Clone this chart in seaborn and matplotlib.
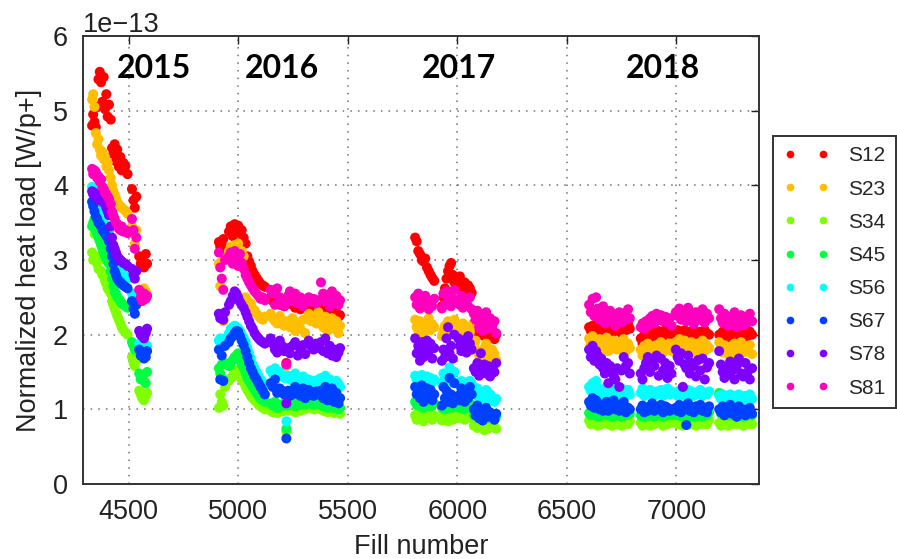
import numpy as np
import pandas as pd
import matplotlib
matplotlib.use("Agg")
import matplotlib.pyplot as plt
from matplotlib.lines import Line2D
import seaborn as sns

# Fill numbers (one entry per fill), grouped by run year
fill_number = (
    [4333, 4338, 4344, 4350, 4356, 4362, 4368, 4374, 4380, 4386, 4392, 4398, 4404, 4410, 4418, 4424, 4430, 4436,
     4442, 4448, 4455, 4462, 4468, 4476, 4485, 4495, 4515, 4522, 4528, 4535, 4548, 4555, 4562, 4570, 4578, 4584]
    + [4912, 4918, 4925, 4932, 4940, 4958, 4966, 4975, 4984, 4992, 5000, 5008, 5016, 5025, 5034, 5042, 5050, 5058,
       5066, 5075, 5084, 5093, 5102, 5112, 5122, 5148, 5158, 5168, 5178, 5190, 5200, 5210, 5220, 5228, 5236, 5248,
       5260, 5272, 5284, 5296, 5306, 5322, 5332, 5344, 5356, 5366, 5378, 5388, 5398, 5408, 5418, 5428, 5438, 5448,
       5458, 5465]
    + [5808, 5815, 5822, 5830, 5838, 5846, 5854, 5862, 5870, 5878, 5886, 5895, 5930, 5937, 5944, 5951, 5958, 5965,
       5972, 5980, 5987, 6005, 6012, 6019, 6026, 6034, 6042, 6050, 6058, 6066, 6076, 6084, 6092, 6100, 6108, 6116,
       6124, 6132, 6140, 6150, 6160, 6170, 6178]
    + [6602, 6610, 6618, 6626, 6634, 6642, 6650, 6658, 6666, 6674, 6682, 6690, 6698, 6706, 6714, 6722, 6730, 6740,
       6750, 6760, 6770, 6780, 6788, 6838, 6846, 6854, 6862, 6870, 6880, 6890, 6900, 6910, 6920, 6930, 6940, 6950,
       6960, 6970, 6978, 6998, 7006, 7014, 7022, 7030, 7038, 7046, 7054, 7062, 7070, 7080, 7090, 7100, 7110, 7120,
       7130, 7140, 7150, 7196, 7204, 7212, 7220, 7228, 7236, 7246, 7256, 7266, 7276, 7286, 7296, 7306, 7316, 7326,
       7336, 7346]
)

# Normalized heat load per sector, in units of 1e-13 W/p+
s12 = (
    [4.80, 4.95, 4.85, 4.78, 5.05, 5.42, 5.52, 5.38, 5.12, 5.45, 5.02, 5.22, 4.92, 5.08, 4.88, 4.50, 4.42, 4.55,
     4.32, 4.48, 4.25, 4.38, 4.20, 4.30, 4.26, 4.15, 3.95, 3.80, 3.70, 3.85, 3.05, 2.95, 3.00, 2.90, 3.08, 2.95]
    + [3.24, 3.18, 3.20, 3.28, 3.15, 3.38, 3.45, 3.32, 3.48, 3.42, 3.46, 3.36, 3.40, 3.30, 3.22, 3.05, 2.98, 2.92,
       2.85, 2.80, 2.76, 2.72, 2.68, 2.66, 2.64, 2.50, 2.45, 2.48, 2.42, 2.40, 2.44, 2.38, 1.62, 2.42, 2.46, 2.40,
       2.36, 2.44, 2.34, 2.40, 2.38, 2.42, 2.36, 2.40, 2.35, 2.38, 2.30, 2.25, 2.32, 2.22, 2.28, 2.35, 2.20, 2.30,
       2.24, 2.26]
    + [3.30, 3.25, 3.12, 3.08, 3.00, 2.98, 3.02, 2.90, 2.85, 2.80, 2.76, 2.72, 2.38, 2.50, 2.62, 2.75, 2.85, 2.92,
       2.96, 2.80, 2.70, 2.72, 2.78, 2.65, 2.60, 2.70, 2.58, 2.66, 2.62, 2.56, 2.15, 2.08, 2.12, 2.00, 2.18, 2.05,
       1.98, 2.10, 1.95, 2.02, 2.06, 1.94, 2.00]
    + [2.10, 2.05, 2.12, 2.08, 2.14, 2.06, 2.10, 2.04, 2.12, 2.08, 2.02, 2.10, 2.06, 2.12, 2.04, 2.14, 2.08, 2.10,
       2.02, 2.12, 2.06, 2.14, 2.08, 1.95, 1.88, 2.00, 1.90, 2.02, 1.96, 2.04, 1.98, 2.06, 2.00, 2.04, 1.98, 2.06,
       2.02, 2.04, 2.00, 2.02, 2.06, 2.00, 2.04, 1.98, 2.06, 2.02, 2.00, 2.04, 1.98, 2.06, 2.02, 2.00, 2.04, 1.98,
       2.06, 2.02, 2.00, 2.00, 1.96, 2.04, 1.98, 2.02, 1.94, 2.04, 2.00, 1.96, 2.02, 1.98, 2.04, 1.96, 2.02, 1.98,
       2.04, 2.00]
)
s23 = (
    [5.15, 5.22, 5.05, 4.70, 4.55, 4.62, 4.48, 4.40, 4.45, 4.35, 4.38, 4.25, 4.30, 4.20, 4.10, 4.00, 3.92, 3.88,
     3.82, 3.78, 3.74, 3.72, 3.70, 3.68, 3.66, 3.62, 3.45, 3.35, 3.22, 3.40, 2.60, 2.55, 2.50, 2.62, 2.58, 2.52]
    + [2.95, 2.65, 2.98, 2.18, 3.02, 3.12, 3.18, 3.10, 3.20, 3.15, 3.22, 3.08, 3.12, 3.05, 2.50, 2.45, 2.40, 2.42,
       2.35, 2.32, 2.28, 2.25, 2.22, 2.20, 2.24, 2.28, 2.22, 2.18, 2.15, 2.25, 2.20, 2.12, 1.58, 2.18, 2.10, 2.22,
       2.05, 2.15, 2.08, 2.20, 2.02, 2.28, 2.18, 2.22, 2.15, 2.30, 2.20, 2.10, 2.24, 2.05, 2.15, 2.22, 2.08, 2.18,
       2.02, 2.12]
    + [2.20, 2.10, 2.05, 2.18, 2.12, 2.02, 2.15, 2.08, 2.22, 2.06, 2.14, 2.10, 1.98, 2.05, 2.12, 2.00, 2.18, 2.08,
       2.15, 2.02, 2.20, 2.05, 2.12, 2.00, 2.15, 2.08, 1.98, 2.10, 2.04, 2.12, 1.85, 1.92, 1.78, 1.72, 2.08, 1.70,
       1.82, 1.88, 1.68, 1.76, 1.80, 1.74, 1.66]
    + [1.95, 1.88, 1.98, 1.82, 1.92, 1.86, 1.94, 1.80, 1.90, 1.84, 1.96, 1.78, 1.88, 1.82, 1.92, 1.86, 1.80, 1.90,
       1.84, 1.94, 1.78, 1.88, 1.82, 1.80, 1.72, 1.85, 1.76, 1.88, 1.74, 1.82, 1.78, 1.86, 1.80, 1.90, 1.76, 1.84,
       1.80, 1.88, 1.78, 1.90, 1.84, 1.94, 1.80, 1.88, 1.92, 1.78, 1.86, 1.82, 1.90, 1.84, 1.76, 1.88, 1.80, 1.92,
       1.78, 1.86, 1.82, 1.90, 1.82, 1.76, 1.86, 1.80, 1.74, 1.84, 1.78, 1.88, 1.72, 1.82, 1.90, 1.76, 1.84, 1.78,
       1.86, 1.74]
)
s34 = (
    [3.10, 3.00, 3.35, 3.05, 2.95, 2.88, 3.00, 2.85, 2.80, 2.78, 2.72, 2.68, 2.62, 2.60, 2.55, 2.45, 2.40, 2.35,
     2.30, 2.25, 2.20, 2.15, 2.10, 2.06, 2.03, 2.00, 1.70, 1.62, 1.58, 1.65, 1.25, 1.20, 1.15, 1.12, 1.18, 1.22]
    + [1.02, 1.20, 1.10, 1.05, 1.30, 1.38, 1.42, 1.45, 1.48, 1.52, 1.50, 1.44, 1.40, 1.36, 1.30, 1.26, 1.22, 1.18,
       1.15, 1.12, 1.10, 1.06, 1.04, 1.02, 1.00, 0.98, 0.96, 1.02, 0.95, 1.00, 0.97, 0.99, 0.70, 0.98, 1.02, 1.00,
       0.96, 1.04, 0.98, 1.02, 1.00, 1.04, 1.02, 1.00, 1.04, 1.02, 1.00, 0.98, 1.02, 0.96, 1.00, 0.98, 0.95, 1.00,
       0.96, 0.94]
    + [0.92, 0.86, 0.98, 0.90, 0.95, 0.84, 0.93, 0.88, 0.96, 0.90, 0.86, 0.92, 0.85, 0.95, 0.88, 0.92, 0.84, 0.96,
       0.90, 0.86, 0.94, 0.94, 0.88, 0.98, 0.90, 0.86, 0.95, 0.92, 0.88, 0.96, 0.78, 0.82, 0.75, 0.80, 0.85, 0.76,
       0.72, 0.80, 0.74, 0.78, 0.82, 0.76, 0.74]
    + [0.85, 0.80, 0.88, 0.82, 0.86, 0.78, 0.84, 0.80, 0.88, 0.82, 0.86, 0.80, 0.84, 0.78, 0.86, 0.82, 0.80, 0.84,
       0.78, 0.86, 0.82, 0.80, 0.84, 0.82, 0.78, 0.85, 0.80, 0.84, 0.78, 0.86, 0.80, 0.84, 0.82, 0.86, 0.78, 0.84,
       0.80, 0.84, 0.82, 0.84, 0.80, 0.86, 0.82, 0.78, 0.84, 0.80, 0.86, 0.82, 0.80, 0.84, 0.78, 0.86, 0.82, 0.80,
       0.84, 0.80, 0.86, 0.82, 0.78, 0.84, 0.80, 0.86, 0.78, 0.82, 0.80, 0.84, 0.80, 0.82, 0.86, 0.78, 0.84, 0.80,
       0.82, 0.80]
)
s45 = (
    [3.45, 3.50, 3.55, 3.40, 3.35, 3.30, 3.25, 3.20, 3.15, 3.10, 3.05, 3.02, 2.98, 2.95, 2.85, 2.75, 2.65, 2.58,
     2.55, 2.50, 2.48, 2.45, 2.42, 2.40, 2.38, 2.36, 1.90, 1.85, 1.80, 1.82, 1.48, 1.40, 1.45, 1.38, 1.35, 1.50]
    + [1.55, 1.48, 1.60, 1.40, 1.62, 1.58, 1.62, 1.66, 1.70, 1.72, 1.75, 1.66, 1.60, 1.55, 1.48, 1.42, 1.38, 1.34,
       1.30, 1.26, 1.22, 1.18, 1.14, 1.12, 1.10, 1.08, 1.05, 1.10, 1.02, 1.06, 1.04, 1.08, 0.74, 1.05, 1.08, 1.10,
       1.04, 1.10, 1.06, 1.12, 1.06, 1.10, 1.08, 1.06, 1.10, 1.08, 1.06, 1.04, 1.10, 1.02, 1.06, 1.04, 1.02, 1.06,
       1.00, 1.02]
    + [1.10, 1.06, 1.08, 1.04, 1.08, 1.02, 1.06, 1.05, 1.10, 1.04, 1.06, 1.08, 1.02, 1.06, 1.00, 1.04, 1.02, 1.08,
       1.04, 1.02, 1.06, 1.06, 1.02, 1.08, 1.04, 1.00, 1.06, 1.04, 1.02, 1.06, 0.92, 0.94, 0.90, 0.92, 0.96, 0.90,
       0.88, 0.92, 0.88, 0.90, 0.94, 0.88, 0.90]
    + [0.95, 0.92, 0.98, 0.94, 0.96, 0.90, 0.94, 0.92, 0.98, 0.94, 0.96, 0.92, 0.94, 0.90, 0.96, 0.94, 0.92, 0.96,
       0.90, 0.96, 0.92, 0.94, 0.94, 0.92, 0.90, 0.94, 0.90, 0.94, 0.92, 0.94, 0.90, 0.94, 0.92, 0.96, 0.90, 0.94,
       0.92, 0.94, 0.92, 0.94, 0.92, 0.96, 0.92, 0.90, 0.94, 0.92, 0.96, 0.92, 0.90, 0.94, 0.90, 0.96, 0.92, 0.90,
       0.94, 0.92, 0.96, 1.22, 0.94, 0.96, 0.92, 0.96, 0.92, 0.94, 0.92, 0.96, 0.92, 0.94, 0.96, 0.90, 0.94, 0.92,
       0.94, 0.92]
)
s56 = (
    [3.98, 3.95, 3.92, 3.85, 3.80, 3.75, 3.70, 3.62, 3.55, 3.50, 3.48, 3.45, 3.40, 3.38, 3.30, 3.20, 3.10, 3.00,
     2.95, 2.90, 2.88, 2.85, 2.82, 2.80, 2.78, 2.75, 2.55, 2.45, 2.40, 2.50, 1.88, 1.82, 1.85, 1.78, 1.80, 1.85]
    + [1.92, 1.95, 1.88, 1.85, 1.95, 2.02, 2.08, 2.10, 2.12, 2.10, 2.08, 2.05, 2.00, 1.96, 1.90, 1.82, 1.75, 1.68,
       1.60, 1.55, 1.50, 1.45, 1.40, 1.36, 1.32, 1.52, 1.48, 1.55, 1.45, 1.50, 1.46, 1.42, 0.84, 1.45, 1.40, 1.38,
       1.48, 1.40, 1.35, 1.44, 1.32, 1.40, 1.36, 1.38, 1.34, 1.40, 1.42, 1.38, 1.45, 1.35, 1.40, 1.36, 1.32, 1.38,
       1.34, 1.30]
    + [1.45, 1.40, 1.42, 1.38, 1.46, 1.35, 1.40, 1.44, 1.38, 1.42, 1.36, 1.40, 1.35, 1.48, 1.40, 1.42, 1.38, 1.56,
       1.45, 1.36, 1.50, 1.36, 1.32, 1.38, 1.34, 1.30, 1.36, 1.32, 1.38, 1.35, 1.25, 1.20, 1.28, 1.15, 1.22, 1.10,
       1.18, 1.26, 1.12, 1.20, 1.16, 1.10, 1.14]
    + [1.30, 1.25, 1.35, 1.22, 1.38, 1.28, 1.20, 1.26, 1.18, 1.24, 1.30, 1.20, 1.26, 1.22, 1.30, 1.18, 1.24, 1.20,
       1.28, 1.22, 1.18, 1.26, 1.20, 1.22, 1.28, 1.18, 1.24, 1.20, 1.26, 1.22, 1.18, 1.24, 1.20, 1.26, 1.18, 1.22,
       1.28, 1.20, 1.24, 1.22, 1.18, 1.25, 1.20, 1.24, 1.18, 1.22, 1.26, 1.20, 1.24, 1.18, 1.22, 1.20, 1.26, 1.18,
       1.22, 1.20, 1.24, 1.18, 1.14, 1.20, 1.12, 1.18, 1.16, 1.20, 1.14, 1.18, 1.12, 1.20, 1.16, 1.14, 1.18, 1.12,
       1.20, 1.14]
)
s67 = (
    [3.78, 3.72, 3.65, 3.58, 3.55, 3.50, 3.48, 3.45, 3.40, 3.38, 3.35, 3.32, 3.30, 3.25, 3.15, 3.05, 2.95, 2.85,
     2.80, 2.75, 2.72, 2.70, 2.68, 2.66, 2.64, 2.62, 2.45, 2.35, 2.28, 2.40, 1.80, 1.72, 1.75, 1.68, 1.70, 1.78]
    + [1.80, 1.40, 1.72, 1.38, 1.85, 1.90, 1.95, 1.98, 2.02, 2.05, 2.04, 1.98, 1.92, 1.86, 1.78, 1.70, 1.62, 1.55,
       1.50, 1.44, 1.40, 1.35, 1.30, 1.25, 1.20, 1.35, 1.30, 1.40, 1.22, 1.28, 1.25, 1.20, 0.61, 1.25, 1.18, 1.20,
       1.30, 1.22, 1.18, 1.28, 1.15, 1.26, 1.22, 1.18, 1.24, 1.20, 1.25, 1.15, 1.30, 1.12, 1.20, 1.28, 1.10, 1.22,
       1.08, 1.15]
    + [1.30, 1.20, 1.25, 1.15, 1.32, 1.10, 1.22, 1.28, 1.18, 1.26, 1.12, 1.20, 1.05, 1.30, 1.15, 1.25, 1.10, 1.42,
       1.20, 1.08, 1.35, 1.18, 1.12, 1.28, 1.22, 1.10, 1.25, 1.15, 1.30, 1.20, 1.00, 0.92, 1.05, 0.88, 0.98, 0.85,
       0.95, 1.02, 0.90, 0.96, 0.92, 0.86, 0.94]
    + [1.10, 1.05, 1.15, 1.02, 1.12, 1.08, 1.00, 1.06, 0.98, 1.04, 1.10, 0.98, 1.08, 1.02, 1.12, 1.00, 1.06, 0.98,
       1.04, 1.10, 0.96, 1.02, 1.00, 1.00, 1.05, 0.96, 1.02, 0.98, 1.04, 1.08, 0.98, 1.02, 1.00, 1.06, 0.96, 1.04,
       1.02, 0.98, 1.00, 1.02, 0.98, 1.06, 0.96, 1.04, 1.00, 0.79, 1.08, 0.98, 1.02, 0.96, 1.04, 1.00, 1.06, 0.98,
       1.02, 0.96, 1.04, 1.00, 0.96, 1.04, 0.92, 1.02, 0.98, 1.06, 0.94, 1.00, 0.90, 1.04, 0.96, 1.00, 0.92, 0.98,
       1.02, 0.94]
)
s78 = (
    [3.92, 3.88, 3.90, 3.85, 3.82, 3.86, 3.80, 3.84, 3.78, 3.82, 3.75, 3.70, 3.65, 3.60, 3.45, 3.30, 3.20, 3.15,
     3.10, 3.05, 3.02, 3.00, 2.98, 2.96, 2.95, 2.92, 2.88, 2.80, 2.75, 2.85, 2.05, 2.00, 1.98, 1.95, 2.02, 2.08]
    + [2.28, 2.22, 2.25, 2.20, 2.30, 2.40, 2.45, 2.52, 2.58, 2.55, 2.50, 2.44, 2.40, 2.36, 2.30, 2.24, 2.18, 2.12,
       2.08, 2.02, 1.98, 1.95, 1.92, 1.90, 1.88, 1.95, 1.88, 1.80, 1.76, 1.92, 1.85, 1.78, 1.08, 1.82, 1.75, 1.85,
       1.90, 1.72, 1.80, 1.86, 1.74, 1.92, 1.85, 1.80, 1.88, 1.82, 1.90, 1.78, 1.95, 1.75, 1.85, 1.72, 1.80, 1.70,
       1.76, 1.82]
    + [1.95, 1.75, 1.85, 1.65, 1.90, 1.70, 1.80, 1.92, 1.78, 1.88, 1.68, 1.82, 1.65, 1.80, 1.70, 1.95, 2.10, 1.75,
       1.85, 1.68, 2.00, 1.95, 1.85, 1.78, 1.92, 1.82, 1.76, 1.98, 1.88, 1.80, 1.55, 1.50, 1.62, 1.45, 1.75, 1.52,
       1.60, 1.48, 1.58, 1.44, 1.55, 1.50, 1.62]
    + [1.80, 1.70, 1.85, 1.65, 1.78, 1.72, 1.60, 1.68, 1.55, 1.48, 1.62, 1.35, 1.58, 1.50, 1.45, 1.40, 1.55, 1.30,
       1.52, 1.70, 1.58, 1.62, 1.48, 1.48, 1.40, 1.55, 1.62, 1.70, 1.50, 1.65, 1.58, 1.72, 1.45, 1.68, 1.52, 1.62,
       1.42, 1.58, 1.48, 1.80, 1.70, 1.65, 1.75, 1.30, 1.60, 1.55, 1.72, 1.48, 1.62, 1.58, 1.44, 1.66, 1.52, 1.68,
       1.40, 1.56, 1.62, 1.78, 1.60, 1.50, 1.42, 1.56, 1.46, 1.64, 1.52, 1.40, 1.58, 1.68, 1.48, 1.44, 1.62, 1.50,
       1.40, 1.55]
)
s81 = (
    [4.22, 4.15, 4.20, 4.18, 4.10, 4.12, 4.05, 4.08, 3.98, 3.95, 3.90, 3.88, 3.85, 3.82, 3.75, 3.65, 3.60, 3.55,
     3.50, 3.48, 3.42, 3.40, 3.45, 3.38, 3.40, 3.36, 3.55, 3.40, 3.15, 3.30, 2.60, 2.50, 2.45, 2.55, 2.48, 2.52]
    + [3.10, 2.90, 2.75, 2.60, 3.00, 3.05, 3.10, 2.95, 3.12, 3.00, 2.92, 3.08, 2.96, 2.88, 2.80, 2.75, 2.70, 2.66,
       2.62, 2.58, 2.55, 2.52, 2.48, 2.50, 2.46, 2.60, 2.55, 2.40, 2.62, 2.50, 2.45, 2.38, 1.60, 2.52, 2.58, 2.45,
       2.55, 2.42, 2.50, 2.38, 2.46, 2.50, 2.44, 2.48, 2.42, 2.46, 2.70, 2.55, 2.45, 2.50, 2.38, 2.58, 2.42, 2.52,
       2.40, 2.46]
    + [2.50, 2.40, 2.55, 2.35, 2.48, 2.38, 2.52, 2.42, 2.34, 2.45, 2.38, 2.48, 2.35, 2.55, 2.40, 2.58, 2.45, 2.52,
       2.38, 2.48, 2.60, 2.45, 2.40, 2.52, 2.36, 2.48, 2.42, 2.38, 2.50, 2.34, 2.28, 2.20, 2.32, 2.10, 2.25, 2.05,
       2.15, 2.30, 2.08, 2.22, 2.12, 2.18, 2.02]
    + [2.40, 2.30, 2.48, 2.25, 2.50, 2.35, 2.20, 2.30, 2.38, 2.15, 2.28, 2.22, 2.32, 2.18, 2.26, 2.12, 2.24, 2.30,
       2.16, 2.28, 2.20, 2.34, 2.22, 2.10, 2.15, 2.08, 2.18, 2.12, 2.22, 2.25, 2.15, 2.28, 2.20, 2.26, 2.18, 2.24,
       2.16, 2.22, 2.12, 2.30, 2.25, 2.35, 2.20, 2.28, 2.32, 2.18, 2.36, 2.22, 2.26, 2.14, 2.30, 2.24, 2.20, 2.34,
       2.16, 2.28, 2.22, 2.34, 2.22, 2.16, 2.28, 2.18, 2.12, 2.24, 2.14, 2.30, 2.10, 2.20, 2.26, 2.12, 2.22, 2.16,
       2.28, 2.18]
)

sectors = ["S12", "S23", "S34", "S45", "S56", "S67", "S78", "S81"]
sector_colors = ["#ff0000", "#ffbf00", "#80ff00", "#00ff40",
                 "#00ffff", "#0040ff", "#8000ff", "#ff00bf"]
years = ["2015", "2016", "2017", "2018"]
year_label_x = [4616, 5199, 6006, 6940]
x_ticks = [4500, 5000, 5500, 6000, 6500, 7000]

sns.set_style("white")
plt.rcParams["font.family"] = ["Liberation Sans", "DejaVu Sans"]

# Long-form table: one row per fill and sector
series = [s12, s23, s34, s45, s56, s67, s78, s81]
frames = [pd.DataFrame({"fill": fill_number,
                        "sector": name,
                        "load": np.asarray(vals) * 1e-13})
          for name, vals in zip(sectors, series)]
df = pd.concat(frames, ignore_index=True)

fig = plt.figure(figsize=(8.97, 5.59), dpi=100)
ax = fig.add_axes([0.0929, 0.1342, 0.7538, 0.8014])

sns.scatterplot(data=df, x="fill", y="load", hue="sector", hue_order=sectors,
                palette=sector_colors, s=52, linewidth=0, edgecolor="none",
                legend=False, ax=ax, zorder=3)

ax.set_xlim(4293, 7380)
ax.set_ylim(0, 6e-13)
ax.set_xticks(x_ticks)
ax.set_yticks(np.arange(0, 7) * 1e-13)

ax.grid(True, color="#707070", linewidth=1.1, linestyle=(0, (1, 4)), zorder=0)
ax.set_axisbelow(True)
ax.tick_params(direction="in", length=6, width=1.0, top=True, right=True,
               labelsize=19.5, pad=11, colors="#222222")
for sp in ax.spines.values():
    sp.set_color("#333333")
    sp.set_linewidth(1.4)

ax.set_xlabel("Fill number", fontsize=19.5, labelpad=6, color="#222222")
ax.set_ylabel("Normalized heat load [W/p+]", fontsize=19.5, labelpad=8, color="#222222")
ax.yaxis.get_offset_text().set_fontsize(19.5)
ax.yaxis.get_offset_text().set_color("#222222")

# Run-year annotations
for yx, label in zip(year_label_x, years):
    ax.text(yx, 5.56e-13, label, ha="center", va="center", fontsize=23,
            fontweight="bold", family=["Lato", "DejaVu Sans"], color="black")

# Legend with two dots per entry
handles = [Line2D([], [], marker="o", linestyle="none", markersize=5.5,
                  markerfacecolor=c, markeredgewidth=0) for c in sector_colors]
leg = fig.legend(handles, sectors, loc="upper left",
                 bbox_to_anchor=(773 / 897, 1 - 136 / 559), borderaxespad=0,
                 numpoints=2, handlelength=2.2, handletextpad=0.9,
                 labelspacing=0.68, borderpad=0.5, fontsize=15,
                 frameon=True, fancybox=False, framealpha=1,
                 edgecolor="#333333")
leg.get_frame().set_linewidth(1.4)

fig.savefig("out.png", dpi=100)
